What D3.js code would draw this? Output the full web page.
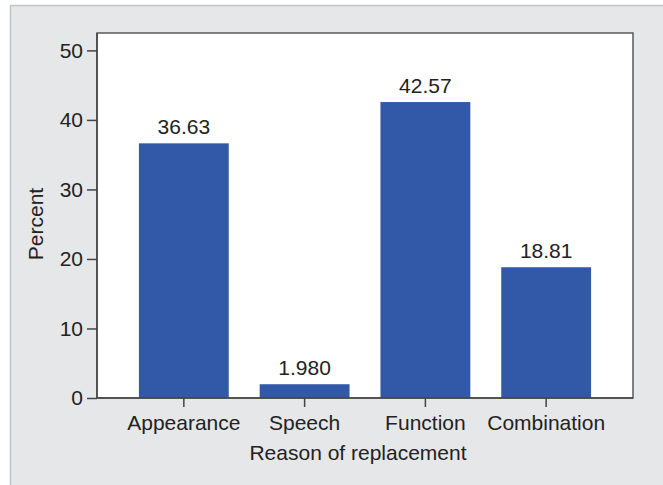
<!DOCTYPE html>
<html>
<head>
<meta charset="utf-8">
<script src="https://cdn.jsdelivr.net/npm/d3@7"></script>
<style>
  body { margin: 0; background: #fff; }
  text { font-family: "Liberation Sans", Arial, sans-serif; fill: #222; }
</style>
</head>
<body>
<div id="chart"></div>
<script>
(function(){
  const categories = ["Appearance", "Speech", "Function", "Combination"];
  const values = [36.63, 1.98, 42.57, 18.81];
  const valueLabels = ["36.63", "1.980", "42.57", "18.81"];
  const yTicks = [0, 10, 20, 30, 40, 50];

  const width = 663;
  const height = 485;
  const plot = { left: 97, top: 33, right: 633, bottom: 398 };
  const fs = "21px";

  const svg = d3.select("#chart")
    .append("svg")
    .attr("width", width)
    .attr("height", height);

  // outer gray panel
  svg.append("rect")
    .attr("x", 10.5).attr("y", 5.5)
    .attr("width", width).attr("height", height)
    .attr("fill", "#e6e7e9")
    .attr("stroke", "#c4c4c4")
    .attr("stroke-width", 1.5);

  const x = d3.scaleBand()
    .domain(categories)
    .range([plot.left, plot.right])
    .paddingInner(0.256)
    .paddingOuter(0.347);

  const y = d3.scaleLinear()
    .domain([0, 52.5])
    .range([plot.bottom, plot.top]);

  // plot area
  svg.append("rect")
    .attr("x", plot.left).attr("y", plot.top)
    .attr("width", plot.right - plot.left)
    .attr("height", plot.bottom - plot.top)
    .attr("fill", "#fff")
    .attr("stroke", "#5a5a5a")
    .attr("stroke-width", 1.5);

  svg.selectAll(".bar")
    .data(values)
    .enter().append("rect")
    .attr("class", "bar")
    .attr("x", (d, i) => x(categories[i]))
    .attr("y", d => y(d))
    .attr("width", x.bandwidth())
    .attr("height", d => y(0) - y(d))
    .attr("fill", "#3259a8");

  svg.selectAll(".val")
    .data(values)
    .enter().append("text")
    .attr("class", "val")
    .attr("x", (d, i) => x(categories[i]) + x.bandwidth() / 2)
    .attr("y", d => y(d) - 9)
    .attr("text-anchor", "middle")
    .style("font-size", fs)
    .text((d, i) => valueLabels[i]);

  const yAxis = svg.append("g")
    .attr("transform", `translate(${plot.left},0)`)
    .call(d3.axisLeft(y).tickValues(yTicks).tickSize(10).tickPadding(4));
  yAxis.select(".domain").remove();
  yAxis.selectAll("line").attr("stroke", "#444").attr("stroke-width", 1.5);
  yAxis.selectAll("text").style("font-size", fs).attr("fill", "#222");

  const xAxis = svg.append("g")
    .attr("transform", `translate(0,${plot.bottom})`)
    .call(d3.axisBottom(x).tickSize(9).tickPadding(8));
  xAxis.select(".domain").remove();
  xAxis.selectAll("line").attr("stroke", "#444").attr("stroke-width", 1.5);
  xAxis.selectAll("text").style("font-size", fs).attr("fill", "#222");

  // axis lines
  svg.append("line")
    .attr("x1", plot.left - 1).attr("x2", plot.right)
    .attr("y1", plot.bottom).attr("y2", plot.bottom)
    .attr("stroke", "#444").attr("stroke-width", 1.5);
  svg.append("line")
    .attr("x1", plot.left).attr("x2", plot.left)
    .attr("y1", plot.top).attr("y2", plot.bottom)
    .attr("stroke", "#444").attr("stroke-width", 1.5);

  svg.append("text")
    .attr("x", 358)
    .attr("y", 460)
    .attr("text-anchor", "middle")
    .style("font-size", fs)
    .text("Reason of replacement");

  svg.append("text")
    .attr("transform", "translate(43,224) rotate(-90)")
    .attr("text-anchor", "middle")
    .style("font-size", fs)
    .text("Percent");
})();
</script>
</body>
</html>
